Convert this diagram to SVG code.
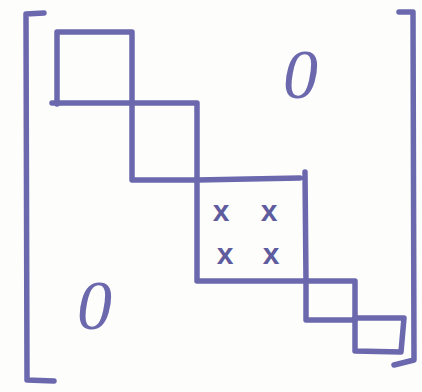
<svg xmlns="http://www.w3.org/2000/svg" width="422" height="392" viewBox="0 0 422 392">
<style>
.ink{fill:none;stroke:#6b68ad;stroke-width:5.5;stroke-linecap:round;stroke-linejoin:round}
.zero{font-family:"Liberation Serif",serif;font-style:italic;font-size:70px;fill:#6b68ad}
.ent{font-family:"Liberation Sans",sans-serif;font-weight:bold;font-size:30px;fill:#5f5c9e;text-anchor:middle}
</style>
<rect width="422" height="392" fill="#fdfdfc"/>
<g id="left-bracket"><path class="ink" d="M44,13 L26,14 L27,380 L54,381"/></g>
<g id="right-bracket"><path class="ink" d="M399,12 L413,12 L414,360 L394,365"/></g>
<g id="blocks">
<g id="block1"><path class="ink" d="M57,104 L57,32 L132,32 L132,103"/></g>
<g id="block2"><path class="ink" d="M52,103 L197,103 L197,180 M132,103 L132,180 L197,180"/></g>
<g id="block3"><path class="ink" d="M197,180 L300,178 M197,180 L197,281 L306,281 M305,172 L306,281"/></g>
<g id="block4"><path class="ink" d="M306,281 L355,281 L355,318 M306,281 L306,320 L355,320"/></g>
<g id="block5"><path class="ink" d="M355,318 L404,318 L401,352 L355,351 L355,318"/></g>
</g>
<g id="entries">
<text class="ent" x="221" y="221">x</text>
<text class="ent" x="269" y="221">x</text>
<text class="ent" x="225" y="264">x</text>
<text class="ent" x="271" y="264">x</text>
</g>
<g id="zeros">
<text class="zero" x="283" y="98">0</text>
<text class="zero" x="77" y="329">0</text>
</g>
</svg>
